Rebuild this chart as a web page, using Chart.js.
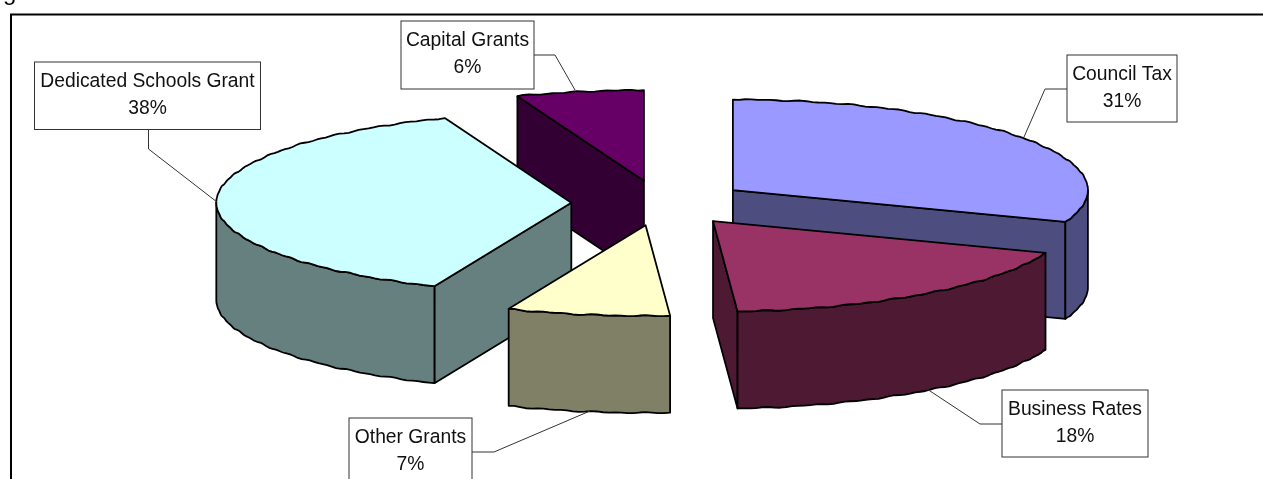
<!DOCTYPE html>
<html>
<head>
<meta charset="utf-8">
<style>
  html, body { margin: 0; padding: 0; background: #fff; overflow: hidden; }
  canvas { display: block; }
</style>
<script src="https://cdn.jsdelivr.net/npm/chart.js@4/dist/chart.umd.min.js"></script>
</head>
<body>
<canvas id="pieCanvas" width="1263" height="479"></canvas>
<script>
var categories = ['Council Tax', 'Business Rates', 'Other Grants', 'Dedicated Schools Grant', 'Capital Grants'];
var shares = [30.7, 18.2, 7.4, 37.9, 5.8];
var sliceColors = ['#9999FF', '#993366', '#FFFFCC', '#CCFFFF', '#660066'];
var sideColors = ['#4D4D80', '#4D1933', '#808066', '#668080', '#330033'];
var titleFragment = 'g';

var TILT = 0.255;
var DEPTH = 97;
var FONT = '19.3px "Liberation Sans", Arial, sans-serif';

// where the label boxes sit: box left, top, right, bottom, then the leader line
var labelLayout = [
  { box: [1067, 55, 1177, 122], leader: [[1067, 89], [1045, 89], [1024, 137]] },
  { box: [1002, 390, 1148, 457], leader: [[1002, 424], [980, 424], [927, 389]] },
  { box: [349, 418, 472, 486], leader: [[472, 452], [494, 452], [590, 411]] },
  { box: [34.5, 62, 260.5, 129.5], leader: [[148.5, 129.5], [148.5, 149], [217, 202]] },
  { box: [401, 21, 534, 89], leader: [[534, 55], [555, 55], [575, 90]] }
];

// the old chart has slightly wobbly curves, a small ripple gives the same look
function rimPoints(c, r, from, to) {
  var pts = [];
  var n = Math.max(2, Math.ceil((to - from) / (Math.PI / 180)));
  for (var i = 0; i <= n; i++) {
    var a = from + (to - from) * i / n;
    var x = c.x + r * Math.cos(a);
    var y = c.y + r * TILT * Math.sin(a);
    if (i > 0 && i < n) {
      y += 0.35 * Math.sin(a * 47) + 0.4 * Math.sin(a * 83);
    }
    pts.push([x, y]);
  }
  return pts;
}

function fillPath(ctx, pts, fill) {
  ctx.beginPath();
  ctx.moveTo(pts[0][0], pts[0][1]);
  for (var i = 1; i < pts.length; i++) {
    ctx.lineTo(pts[i][0], pts[i][1]);
  }
  ctx.closePath();
  ctx.fillStyle = fill;
  ctx.fill();
  ctx.stroke();
}

function sideFace(ctx, c, r, angle, fill) {
  var x = c.x + r * Math.cos(angle);
  var y = c.y + r * TILT * Math.sin(angle);
  fillPath(ctx, [[c.x, c.y], [x, y], [x, y + DEPTH], [c.x, c.y + DEPTH]], fill);
}

function drawSlice(ctx, arc, side) {
  var mid = (arc.startAngle + arc.endAngle) / 2;
  var off = arc.options.offset;
  var c = { x: arc.x + off * Math.cos(mid), y: arc.y + off * TILT * Math.sin(mid) };
  var r = arc.outerRadius;
  var a0 = arc.startAngle;
  var a1 = arc.endAngle;

  if (Math.cos(a0) < -0.001) sideFace(ctx, c, r, a0, side);
  if (Math.cos(a1) > 0.001) sideFace(ctx, c, r, a1, side);

  // outer wall, only the part that faces the viewer
  var wallFrom = Math.max(a0, 0);
  var wallTo = Math.min(a1, Math.PI);
  if (wallTo > wallFrom) {
    var front = rimPoints(c, r, wallFrom, wallTo);
    var back = front.slice().reverse().map(function (p) { return [p[0], p[1] + DEPTH]; });
    fillPath(ctx, front.concat(back), side);
  }

  var top = rimPoints(c, r, a0, a1);
  top.unshift([c.x, c.y]);
  fillPath(ctx, top, arc.options.backgroundColor);
}

var pie3d = {
  id: 'pie3d',
  beforeDatasetsDraw: function (chart) {
    var ctx = chart.ctx;
    var arcs = chart.getDatasetMeta(0).data;
    ctx.save();
    ctx.strokeStyle = '#000';
    ctx.lineWidth = 1.8;
    ctx.lineJoin = 'round';
    // back slices first
    arcs.map(function (arc, i) {
      var mid = (arc.startAngle + arc.endAngle) / 2;
      return { arc: arc, side: sideColors[i], y: arc.options.offset * Math.sin(mid) };
    }).sort(function (a, b) {
      return a.y - b.y;
    }).forEach(function (item) {
      drawSlice(ctx, item.arc, item.side);
    });
    ctx.restore();
    return false;
  },
  afterDraw: function (chart) {
    var ctx = chart.ctx;
    ctx.save();
    ctx.font = FONT;
    ctx.fillStyle = '#000';
    ctx.textBaseline = 'alphabetic';
    ctx.textAlign = 'left';
    ctx.save();
    ctx.font = '24px "Liberation Sans", Arial, sans-serif';
    ctx.fillText(titleFragment, 3, 0);
    ctx.restore();

    ctx.strokeStyle = '#000';
    ctx.lineWidth = 2;
    ctx.strokeRect(11, 14.5, 1300, 500);

    ctx.textAlign = 'center';
    for (var i = 0; i < categories.length; i++) {
      var l = labelLayout[i];
      var b = l.box;

      ctx.lineWidth = 1;
      ctx.strokeStyle = '#333';
      ctx.beginPath();
      ctx.moveTo(l.leader[0][0], l.leader[0][1]);
      ctx.lineTo(l.leader[1][0], l.leader[1][1]);
      ctx.lineTo(l.leader[2][0], l.leader[2][1]);
      ctx.stroke();

      ctx.fillStyle = '#fff';
      ctx.fillRect(b[0], b[1], b[2] - b[0], b[3] - b[1]);
      ctx.strokeRect(b[0], b[1], b[2] - b[0], b[3] - b[1]);

      ctx.fillStyle = '#111';
      var mx = (b[0] + b[2]) / 2;
      ctx.fillText(categories[i], mx, b[1] + 25);
      ctx.fillText(Math.round(shares[i]) + '%', mx, b[1] + 52);
    }
    ctx.restore();
  }
};

new Chart(document.getElementById('pieCanvas'), {
  type: 'pie',
  data: {
    labels: categories,
    datasets: [{
      data: shares,
      backgroundColor: sliceColors,
      offset: 88.7,
      borderWidth: 0,
      clip: false
    }]
  },
  options: {
    responsive: false,
    animation: false,
    radius: 355,
    layout: { padding: { left: 57, bottom: 73 } },
    plugins: {
      legend: { display: false },
      tooltip: { enabled: false },
      title: { display: false }
    }
  },
  plugins: [pie3d]
});
</script>
</body>
</html>
